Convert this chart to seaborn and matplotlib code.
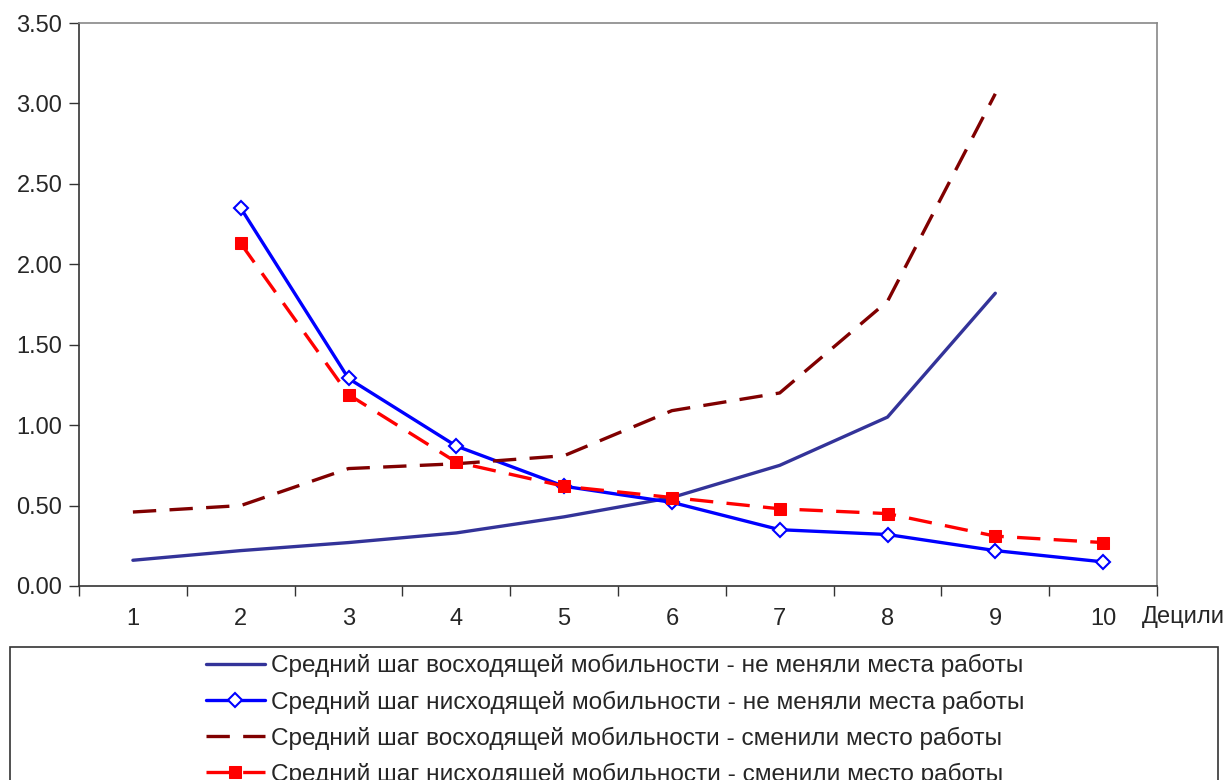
import numpy as np
import pandas as pd
import matplotlib
matplotlib.use("Agg")
import matplotlib.pyplot as plt
from matplotlib.patches import Rectangle
import seaborn as sns

deciles = [1, 2, 3, 4, 5, 6, 7, 8, 9, 10]
up_stay = [0.16, 0.22, 0.27, 0.33, 0.43, 0.55, 0.75, 1.05, 1.82, np.nan]
down_stay = [np.nan, 2.35, 1.29, 0.87, 0.62, 0.52, 0.35, 0.32, 0.22, 0.15]
up_change = [0.46, 0.50, 0.73, 0.76, 0.81, 1.09, 1.20, 1.77, 3.06, np.nan]
down_change = [np.nan, 2.13, 1.19, 0.77, 0.62, 0.55, 0.48, 0.45, 0.31, 0.27]

labels = [
    "Средний шаг восходящей мобильности - не меняли места работы",
    "Средний шаг нисходящей мобильности - не меняли места работы",
    "Средний шаг восходящей мобильности - сменили место работы",
    "Средний шаг нисходящей мобильности - сменили место работы",
]
y_ticks = [0.0, 0.5, 1.0, 1.5, 2.0, 2.5, 3.0, 3.5]
x_label = "Децили"

sns.set_theme(style="white")
plt.rcParams['font.family'] = ['Liberation Sans', 'DejaVu Sans']
FS = 17

fig = plt.figure(figsize=(12.23, 7.80), dpi=100)
ax = fig.add_axes([79/1223, 1-586/780, (1157-79)/1223, (586-23)/780])

styles = [
    dict(color="#333399", lw=2.4, dashes=None, marker=None),
    dict(color="#0000FF", lw=2.4, dashes=None, marker="D"),
    dict(color="#800000", lw=2.4, dashes=(7, 4), marker=None),
    dict(color="#FF0000", lw=2.4, dashes=(7, 4), marker="s"),
]
series = [up_stay, down_stay, up_change, down_change]
handles = []
for vals, lab, st in zip(series, labels, styles):
    df = pd.DataFrame({"x": deciles, "y": vals}).dropna()
    sns.lineplot(data=df, x="x", y="y", ax=ax, color=st["color"], linewidth=st["lw"],
                 label=lab, legend=False)
    line = ax.lines[-1]
    if st["dashes"]:
        line.set_dashes(st["dashes"])
    if st["marker"] == "D":
        line.set_marker("D"); line.set_markersize(7.5)
        line.set_markerfacecolor("white"); line.set_markeredgecolor(st["color"])
        line.set_markeredgewidth(1.5)
    elif st["marker"] == "s":
        line.set_marker("s"); line.set_markersize(8)
        line.set_markerfacecolor(st["color"]); line.set_markeredgecolor(st["color"])
    handles.append(line)

ax.set_xlim(0.5, 10.5)
ax.set_ylim(0, 3.5)
ax.set_yticks(y_ticks)
ax.set_yticklabels([f"{v:.2f}" for v in y_ticks])
ax.set_xticks(np.arange(0.5, 11, 1.0))
ax.set_xticklabels([])
ax.set_xticks(deciles, minor=True)
ax.set_xticklabels([str(d) for d in deciles], minor=True)
ax.tick_params(axis="x", which="major", direction="out", length=7, width=1, color="#333333", bottom=True)
ax.tick_params(axis="x", which="minor", length=0, pad=16, labelsize=FS)
ax.tick_params(axis="y", direction="out", length=7, width=1, color="#333333", left=True, labelsize=FS, pad=5)
ax.set_xlabel("")
ax.set_ylabel("")
ax.grid(False)
for s in ["left", "bottom"]:
    ax.spines[s].set_color("#333333"); ax.spines[s].set_linewidth(1.2)
for s in ["top", "right"]:
    ax.spines[s].set_color("#888888"); ax.spines[s].set_linewidth(1.2)

fig.text(1142/1223, 1-617/780, x_label, fontsize=FS, va="center", ha="left")

leg = fig.legend(handles=handles, labels=labels, loc="upper center",
                 bbox_to_anchor=(615/1223, 1-647/780), frameon=False, fontsize=17.6,
                 handlelength=2.4, handletextpad=0.25, labelspacing=0.53, borderaxespad=0,
                 borderpad=0.3)
fig.patches.append(Rectangle((10/1223, -0.05), 1208/1223, (780-647)/780 + 0.05,
                             transform=fig.transFigure, fill=False, edgecolor="#333333",
                             linewidth=1.2))

fig.savefig("out.png", dpi=100, facecolor="white")
